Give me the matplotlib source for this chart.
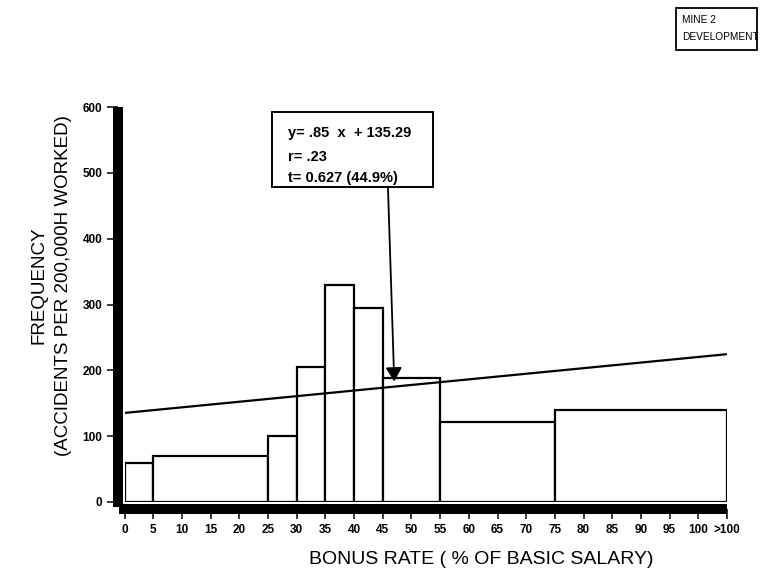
import matplotlib
matplotlib.use("Agg")
import matplotlib.pyplot as plt
from matplotlib.patches import Rectangle

# ---- data ----
bin_edges = [0, 5, 25, 30, 35, 40, 45, 55, 75, 105]
frequency = [60, 70, 100, 205, 330, 295, 188, 122, 140]
x_tick_values = list(range(0, 105, 5)) + [105]
x_tick_labels = [str(v) for v in range(0, 105, 5)] + [">100"]
y_tick_values = [0, 100, 200, 300, 400, 500, 600]
slope = 0.85
intercept = 135.29
eq_lines = ["y= .85  x  + 135.29", "r= .23", "t= 0.627 (44.9%)"]

plt.rcParams['font.family'] = ['Liberation Sans', 'DejaVu Sans']

fig = plt.figure(figsize=(7.61, 5.71), dpi=100)
ax = fig.add_axes([124.6 / 761, 69 / 571, (727 - 124.6) / 761, (502 - 107) / 571])

lefts = bin_edges[:-1]
widths = [b - a for a, b in zip(bin_edges[:-1], bin_edges[1:])]
ax.bar(lefts, frequency, width=widths, align='edge', facecolor='white',
       edgecolor='black', linewidth=1.6, zorder=2)

# regression line
xs = [bin_edges[0], bin_edges[-1]]
ys = [slope * x + intercept for x in xs]
ax.plot(xs, ys, color='black', linewidth=1.6, zorder=3)

ax.set_xlim(0, 105)
ax.set_ylim(0, 600)

for s in ['top', 'right']:
    ax.spines[s].set_visible(False)
for s in ['left', 'bottom']:
    ax.spines[s].set_linewidth(7.2)
    ax.spines[s].set_position(('outward', 5))
    ax.spines[s].set_capstyle('butt')
ax.spines['left'].set_bounds(-8, 600)
ax.spines['bottom'].set_bounds(-0.9, 105)

ax.set_xticks(x_tick_values)
ax.set_xticklabels(x_tick_labels, fontsize=8.5, fontweight='bold')
ax.set_yticks(y_tick_values)
ax.set_yticklabels([str(v) for v in y_tick_values], fontsize=8.5, fontweight='bold')
ax.tick_params(axis='y', direction='out', length=8, width=1.1, pad=3)
ax.tick_params(axis='x', direction='out', length=7.5, width=1.1, pad=3.5)

# annotation box
ax.add_patch(Rectangle((25.7, 479), 28.0, 114, facecolor='white', edgecolor='black',
                       linewidth=1.4, zorder=4))
for txt, yv in zip(eq_lines, [561, 524, 492]):
    ax.text(28.5, yv, txt, fontsize=10.5, fontweight='bold', va='center', ha='left', zorder=5)

ax.annotate('', xy=(47, 183), xytext=(45.9, 479),
            arrowprops=dict(arrowstyle='-|>,head_length=0.6,head_width=0.35',
                            mutation_scale=14, lw=1.3, color='black',
                            shrinkA=0, shrinkB=0), zorder=5)

# axis labels
fig.text(51 / 761, 0.50, "FREQUENCY\n(ACCIDENTS PER 200,000H WORKED)", rotation=90,
         ha='center', va='center', multialignment='center', fontsize=13.5, linespacing=1.55)
fig.text(481 / 761, 1 - 560 / 571, "BONUS RATE ( % OF BASIC SALARY)", ha='center',
         va='center', fontsize=14)

# corner box
fig.patches.append(Rectangle((676 / 761, 1 - 50 / 571), (757 - 676) / 761, 42 / 571,
                             transform=fig.transFigure, facecolor='white',
                             edgecolor='black', linewidth=1.3))
fig.text(682 / 761, 1 - 20 / 571, "MINE 2", fontsize=7.3, va='center', ha='left')
fig.text(682 / 761, 1 - 37 / 571, "DEVELOPMENT", fontsize=7.3, va='center', ha='left')

fig.savefig("out.png", dpi=100)
